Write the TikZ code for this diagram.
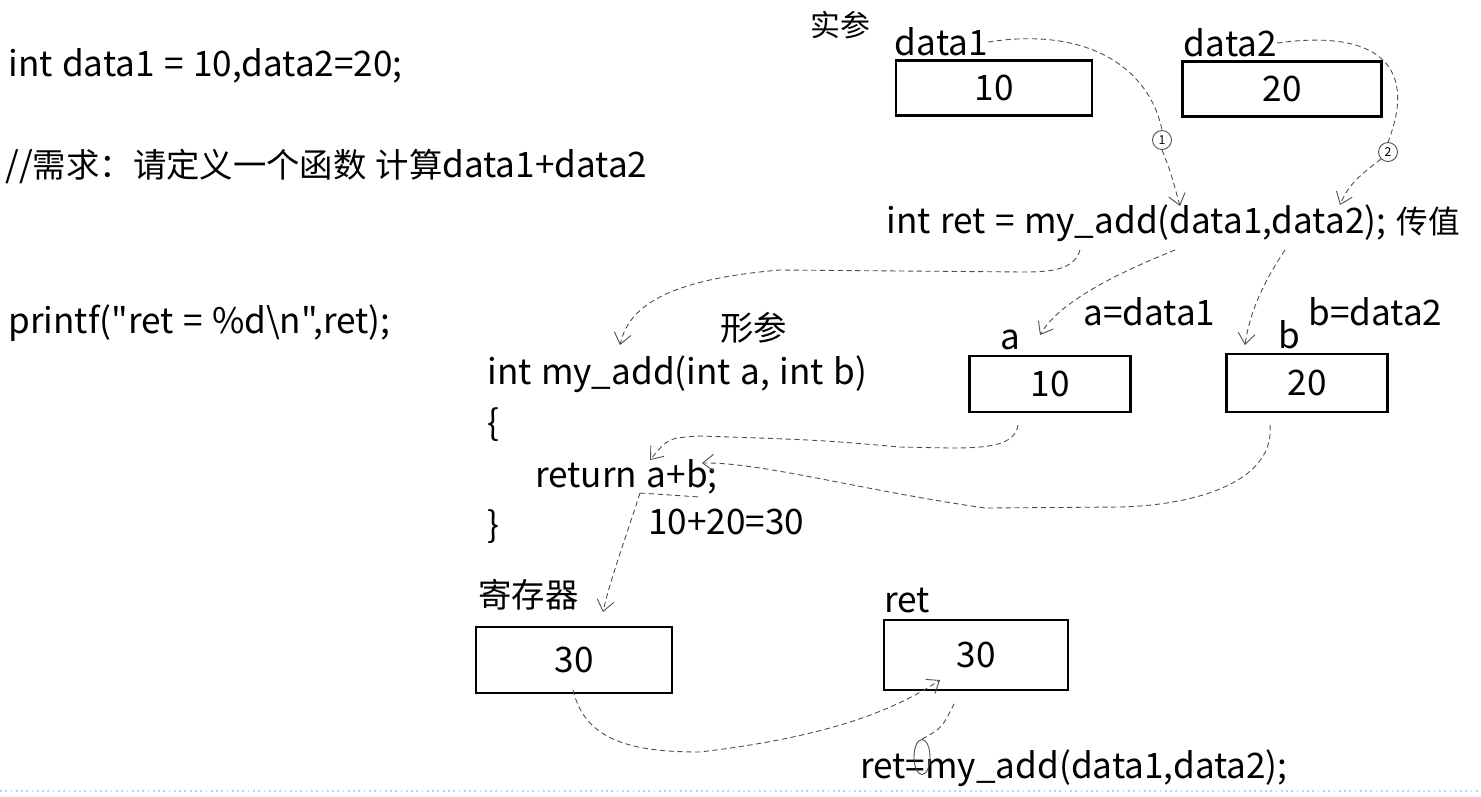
\documentclass[tikz,border=0pt]{standalone}
\usepackage{fontspec}
\setmainfont{Noto Sans CJK SC}[Ligatures=TeXOff, WordSpace=1.2]
\usetikzlibrary{positioning,arrows.meta,shapes.geometric}
\newcommand{\CodeSize}{\fontsize{20}{24}\selectfont}
\newcommand{\HanSize}{\fontsize{19}{22}\selectfont}

\tikzset{
	memcell/.style={draw, line width=1.6pt, inner sep=0pt, font=\CodeSize},
	codeline/.style={anchor=base west, inner sep=0pt, font=\CodeSize},
	hanlabel/.style={anchor=base west, inner sep=0pt, font=\HanSize},
	hop/.style={circle, draw=black!70, line width=0.5pt, minimum size=0.38cm, inner sep=0pt, font=\fontsize{7}{8}\selectfont},
	flow/.style={draw=black!70, densely dashed, line width=0.5pt, -{Straight Barb[length=2.2mm, width=3.4mm]}},
	flowplain/.style={draw=black!70, densely dashed, line width=0.5pt},
}

\begin{document}
\begin{tikzpicture}[x=0.02cm, y=-0.02cm]
		\useasboundingbox (0,0) rectangle (1481,796);

		\node[codeline] (decl) at (8,76) {int data1 = 10,data2=20;};
		\node[codeline] (task) at (5,177) {//{\HanSize 需求：请定义一个函数 计算}data1+data2};
		\node[codeline] (print) at (8,333) {printf("ret = \%d\textbackslash n",ret);};

		\node[hanlabel, font=\fontsize{17}{20}\selectfont] (shican) at (810,36) {实参};
		\node[memcell, minimum width=3.92cm, minimum height=1.1cm] (d1box) at (994,88) {10};
		\node[memcell, minimum width=3.98cm, minimum height=1.1cm] (d2box) at (1282,89) {20};
		\node[codeline, anchor=south west, above right=0.05cm and 0cm of d1box.north west] (d1lbl) {data1};
		\node[codeline, anchor=south west, above right=0.05cm and 0.05cm of d2box.north west] (d2lbl) {data2};

		\node[codeline] (callline) at (886,233) {int ret = my\_add(data1,data2);};
		\node[hanlabel, font=\fontsize{18}{21}\selectfont, right=0.2cm of callline.base east, anchor=base west] (chuanzhi) {传值};

		\node[hanlabel] (xingcan) at (720,340) {形参};
		\node[codeline] (aeq) at (1083,325) {a=data1};
		\node[codeline] (beq) at (1308,325) {b=data2};
		\node[memcell, minimum width=3.22cm, minimum height=1.12cm] (abox) at (1050,384) {10};
		\node[memcell, minimum width=3.22cm, minimum height=1.16cm] (bbox) at (1307,383) {20};
		\node[codeline, anchor=south, above=0.08cm of abox.north, xshift=-0.8cm] (albl) {a};
		\node[codeline, anchor=south, above=0.06cm of bbox.north, xshift=-0.35cm] (blbl) {b};

		\node[codeline] (sig) at (487,384) {int my\_add(int a, int b)};
		\node[codeline] (lbrace) at (487,435) {\{};
		\node[codeline] (retline) at (535,487) {return a+b;};
		\node[codeline] (rbrace) at (487,537) {\}};
		\node[codeline] (sum) at (648,534) {10+20=30};

		\node[hanlabel] (jicunqi) at (478,607) {寄存器};
		\node[memcell, minimum width=3.92cm, minimum height=1.32cm] (regbox) at (574,660) {30};
		\node[codeline] (retlbl) at (884,612) {ret};
		\node[memcell, minimum width=3.68cm, minimum height=1.4cm] (retbox) at (976,655) {30};
		\node[codeline] (assign) at (860,778) {ret=my\_add(data1,data2);};

		\node[hop] (hop1) at (1162,140) {1};
		\node[hop] (hop2) at (1388,152) {2};
		\node[ellipse, draw=black!70, line width=0.5pt, minimum width=0.32cm, minimum height=0.7cm, inner sep=0pt] (eqring) at (922,757) {};

		\coordinate (arg1) at (1180,206);
		\coordinate (arg2) at (1340,205);
		\coordinate (callfn) at (1080,250);
		\coordinate (calld1) at (1175,250);
		\coordinate (calld2) at (1285,250);
		\coordinate (sigin) at (620,345);
		\coordinate (ain) at (1040,335);
		\coordinate (bin) at (1245,345);
		\coordinate (aout) at (1018,425);
		\coordinate (bout) at (1270,425);
		\coordinate (usea) at (650,460);
		\coordinate (useb) at (702,463);
		\coordinate (sumout) at (640,493);
		\coordinate (sumend) at (700,497);
		\coordinate (regin) at (603,612);
		\coordinate (regout) at (573,690);
		\coordinate (retin) at (940,680);
		\coordinate (eqtop) at (955,702);

		\draw[flowplain] (d1lbl.east) .. controls (1090,26) and (1150,70) .. (hop1.north);
		\draw[flow] (hop1.south) .. controls (1170,170) .. (arg1);
		\draw[flowplain] (d2lbl.east) .. controls (1370,30) and (1420,60) .. (hop2.north);
		\draw[flow] (hop2.south west) .. controls (1360,175) and (1348,185) .. (arg2);
		\draw[flow] (callfn) .. controls (1075,268) and (1055,272) .. (1025,272) -- (780,270) .. controls (660,280) and (628,310) .. (sigin);
		\draw[flow] (calld1) .. controls (1125,270) and (1060,300) .. (ain);
		\draw[flow] (calld2) .. controls (1265,280) and (1250,310) .. (bin);
		\draw[flow] (aout) .. controls (1015,445) and (990,448) .. (950,448) -- (900,447) .. controls (820,440) .. (700,436) .. controls (668,438) .. (usea);
		\draw[flow] (bout) .. controls (1275,480) and (1200,505) .. (1120,507) -- (985,508) .. controls (860,490) and (760,462) .. (useb);
		\draw[flowplain] (sumout) -- (sumend);
		\draw[flow] (sumout) .. controls (625,540) and (610,580) .. (regin);
		\draw[flow] (regout) .. controls (585,740) and (630,752) .. (700,752) .. controls (800,740) and (880,720) .. (retin);
		\draw[flowplain] (eqring.north) .. controls (942,728) .. (eqtop);

		\draw[cyan!40, dotted, line width=1pt] (0,791) -- (1481,791);
\end{tikzpicture}
\end{document}
